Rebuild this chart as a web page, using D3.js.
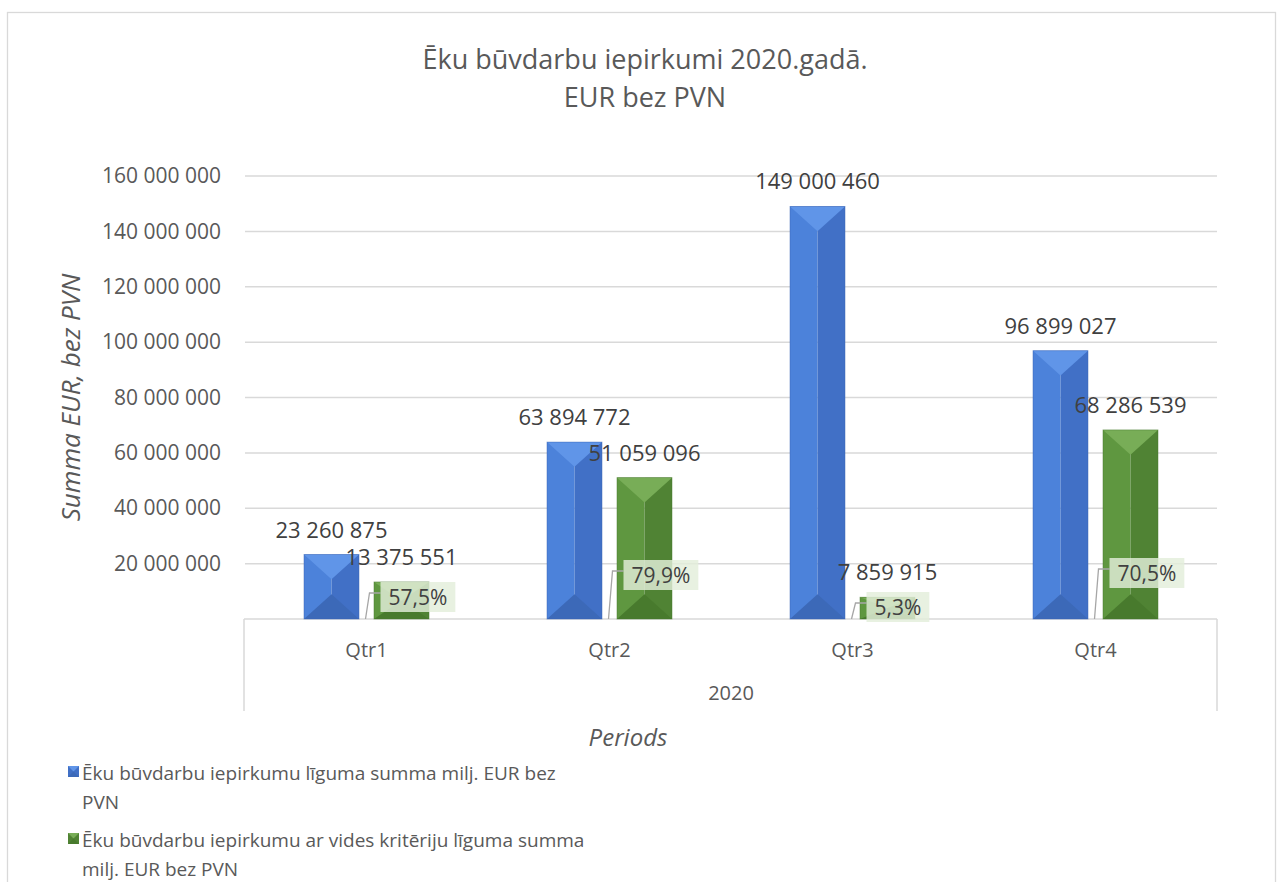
<!DOCTYPE html>
<html>
<head>
<meta charset="utf-8">
<script src="https://cdn.jsdelivr.net/npm/d3@7/dist/d3.min.js"></script>
<style>
  html, body { margin: 0; padding: 0; background: #fff; }
  svg { display: block; font-family: "Open Sans", "Noto Sans", sans-serif; }
</style>
</head>
<body>
<svg id="chart" width="1277" height="882"></svg>
<script>
// Quarterly building construction procurement, 2020 (EUR excl. VAT)
const categories = ["Qtr1", "Qtr2", "Qtr3", "Qtr4"];
const groupLabel = "2020";
const seriesNames = [
  "Ēku būvdarbu iepirkumu līguma summa milj. EUR bez PVN",
  "Ēku būvdarbu iepirkumu ar vides kritēriju līguma summa milj. EUR bez PVN"
];
const totalValues = [23260875, 63894772, 149000460, 96899027];
const greenValues = [13375551, 51059096, 7859915, 68286539];
const yTicks = [0, 20000000, 40000000, 60000000, 80000000, 100000000, 120000000, 140000000, 160000000];

// how far each share label sits above the baseline (px)
const shareLift = [22, 44, 12, 46];

const svg = d3.select("#chart");
const plot = { left: 245, right: 1217, top: 176, bottom: 619 };

const fmtNum = v => d3.format(",")(v).replace(/,/g, " ");
const fmtPct = v => d3.format(".1f")(v * 100).replace(".", ",") + "%";

// chart frame
svg.append("rect")
  .attr("x", 7.5).attr("y", 12.5)
  .attr("width", 1268).attr("height", 900)
  .attr("fill", "#fff").attr("stroke", "#d9d9d9").attr("stroke-width", 1.3);

// title
const title = svg.append("text")
  .attr("text-anchor", "middle").attr("fill", "#595959")
  .style("font-size", "27px");
title.append("tspan").attr("x", 645).attr("y", 69).text("Ēku būvdarbu iepirkumi 2020.gadā.");
title.append("tspan").attr("x", 645).attr("y", 107).text("EUR bez PVN");

// scales
const y = d3.scaleLinear().domain([0, 160000000]).range([plot.bottom, plot.top]);
const x0 = d3.scaleBand().domain(categories).range([plot.left, plot.right]).padding(0);
const x1 = d3.scaleBand().domain([0, 1]).range([0, x0.bandwidth()])
  .paddingInner(15 / 70).paddingOuter(0.843);

// gridlines
svg.append("g").selectAll("line")
  .data(yTicks.filter(t => t > 0))
  .join("line")
  .attr("x1", plot.left).attr("x2", plot.right)
  .attr("y1", d => y(d)).attr("y2", d => y(d))
  .attr("stroke", "#d9d9d9").attr("stroke-width", 1.5);

// y axis labels (zero is left blank)
const yAxis = d3.axisLeft(y).tickValues(yTicks)
  .tickFormat(d => d === 0 ? "" : fmtNum(d)).tickSize(0).tickPadding(24);
const gy = svg.append("g").attr("transform", `translate(${plot.left},0)`).call(yAxis);
gy.select(".domain").remove();
gy.selectAll("text").attr("fill", "#595959").style("font-size", "21px")
  .style("font-family", "'Open Sans', sans-serif");

// y axis title
svg.append("text")
  .attr("transform", `translate(80,${(plot.top + plot.bottom) / 2}) rotate(-90)`)
  .attr("text-anchor", "middle").attr("fill", "#595959")
  .style("font-size", "26px").style("font-style", "italic")
  .text("Summa EUR, bez PVN");

// category axis box
const axisG = svg.append("g").attr("stroke", "#d9d9d9").attr("stroke-width", 1.5);
axisG.append("line").attr("x1", plot.left - 1).attr("x2", plot.right)
  .attr("y1", plot.bottom).attr("y2", plot.bottom);
axisG.append("line").attr("x1", plot.left - 1).attr("x2", plot.left - 1)
  .attr("y1", plot.bottom).attr("y2", 711);
axisG.append("line").attr("x1", plot.right).attr("x2", plot.right)
  .attr("y1", plot.bottom).attr("y2", 711);

svg.append("g").selectAll("text")
  .data(categories).join("text")
  .attr("x", d => x0(d) + x0.bandwidth() / 2).attr("y", 657)
  .attr("text-anchor", "middle").attr("fill", "#595959")
  .style("font-size", "20px").text(d => d);

svg.append("text")
  .attr("x", (plot.left + plot.right) / 2).attr("y", 700)
  .attr("text-anchor", "middle").attr("fill", "#595959")
  .style("font-size", "20px").text(groupLabel);

svg.append("text")
  .attr("x", 628).attr("y", 746)
  .attr("text-anchor", "middle").attr("fill", "#595959")
  .style("font-size", "24px").style("font-style", "italic").text("Periods");

// bevelled bar palettes
const palettes = [
  { left: "#4c82da", right: "#4170c6", top: "#6095e8", bottom: "#3c69b8", edge: "#3a66b5" },
  { left: "#5f9740", right: "#508334", top: "#78ad57", bottom: "#487a2d", edge: "#4a7a2e" }
];

function bevelBar(g, x, w, yTop, yBot, p) {
  const h = yBot - yTop;
  const b = Math.min(w * 0.45, h / 2);
  const cx = x + w / 2;
  g.append("rect").attr("x", x).attr("y", yTop).attr("width", w / 2).attr("height", h).attr("fill", p.left);
  g.append("rect").attr("x", cx).attr("y", yTop).attr("width", w / 2).attr("height", h).attr("fill", p.right);
  g.append("path").attr("d", `M${x},${yTop}L${x + w},${yTop}L${cx},${yTop + b}Z`).attr("fill", p.top);
  g.append("path").attr("d", `M${x},${yBot}L${x + w},${yBot}L${cx},${yBot - b}Z`).attr("fill", p.bottom);
  g.append("rect").attr("x", x).attr("y", yTop).attr("width", w).attr("height", h)
    .attr("fill", "none").attr("stroke", p.edge).attr("stroke-width", 0.8).attr("stroke-opacity", 0.6);
}

const barsG = svg.append("g");
const seriesData = [totalValues, greenValues];
seriesData.forEach((vals, si) => {
  categories.forEach((c, i) => {
    const bx = x0(c) + x1(si);
    bevelBar(barsG, bx, x1.bandwidth(), y(vals[i]), y(0), palettes[si]);
  });
});

// share labels with leader lines
const shareG = svg.append("g");
categories.forEach((c, i) => {
  const share = greenValues[i] / totalValues[i];
  const ax = x0(c) + x0.bandwidth() / 2 - 1;
  const ay = y(0);
  const cy = ay - shareLift[i];
  const bx = ax + 15;
  const t = shareG.append("text")
    .attr("x", bx + 8).attr("y", cy + 8)
    .attr("fill", "#404040").style("font-size", "21px").text(fmtPct(share));
  const tw = t.node().getComputedTextLength();
  const bh = 30;
  shareG.insert("rect", "text")
    .attr("x", bx).attr("y", cy - bh / 2).attr("width", tw + 16).attr("height", bh)
    .attr("fill", "#e3eedb").attr("fill-opacity", 0.82);
  shareG.insert("path", "rect")
    .attr("d", `M${ax},${ay}L${ax + 4},${cy - 4}L${bx},${cy - 4}`)
    .attr("fill", "none").attr("stroke", "#a6a6a6").attr("stroke-width", 1.3);
});

// value labels above bars
const valG = svg.append("g");
seriesData.forEach((vals, si) => {
  categories.forEach((c, i) => {
    valG.append("text")
      .attr("x", x0(c) + x1(si) + x1.bandwidth() / 2)
      .attr("y", y(vals[i]) - 17)
      .attr("text-anchor", "middle").attr("fill", "#404040")
      .style("font-size", "22px").text(fmtNum(vals[i]));
  });
});

// legend
const legendRows = [
  { lines: ["Ēku būvdarbu iepirkumu līguma summa milj. EUR bez", "PVN"], y: 780 },
  { lines: ["Ēku būvdarbu iepirkumu ar vides kritēriju līguma summa", "milj. EUR bez PVN"], y: 847 }
];
const legG = svg.append("g");
legendRows.forEach((row, si) => {
  const p = palettes[si];
  const mx = 68, my = row.y - 14, ms = 11;
  legG.append("rect").attr("x", mx).attr("y", my).attr("width", ms).attr("height", ms).attr("fill", p.right);
  legG.append("path").attr("d", `M${mx},${my}L${mx + ms},${my}L${mx + ms / 2},${my + ms / 2}Z`).attr("fill", p.top);
  legG.append("path").attr("d", `M${mx},${my + ms}L${mx + ms},${my + ms}L${mx + ms / 2},${my + ms / 2}Z`).attr("fill", p.bottom);
  const t = legG.append("text").attr("fill", "#595959").style("font-size", "19px")
    .attr("aria-label", seriesNames[si]);
  row.lines.forEach((ln, k) => {
    t.append("tspan").attr("x", 82).attr("y", row.y + k * 29).text(ln);
  });
});
</script>
</body>
</html>
